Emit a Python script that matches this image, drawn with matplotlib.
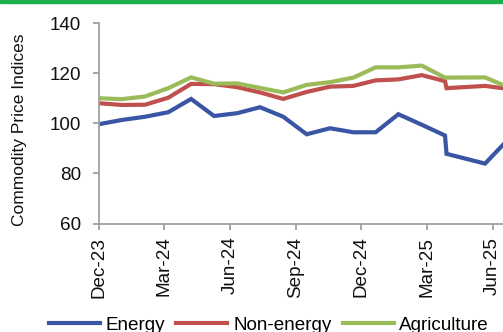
import matplotlib
matplotlib.use("Agg")
import matplotlib.pyplot as plt
from matplotlib.patches import Rectangle

plt.rcParams['font.family'] = ['Liberation Sans', 'DejaVu Sans']

# month positions of the observations (0 = Dec-23)
t = [0, 1.05, 2.12, 3.18, 4.22, 5.27, 6.32, 7.37, 8.43, 9.50,
     10.57, 11.63, 12.65, 13.69, 14.76, 15.82, 15.89, 17.65, 18.70]

energy = [99.6, 101.3, 102.6, 104.4, 109.7, 102.9, 104.0, 106.4, 102.6, 95.6,
          98.0, 96.4, 96.4, 103.6, 99.4, 95.1, 87.8, 83.9, 93.5]
non_energy = [108.0, 107.3, 107.4, 110.2, 115.7, 115.6, 114.4, 112.3, 109.7, 112.5,
              114.6, 114.9, 117.1, 117.5, 119.2, 116.8, 114.0, 114.9, 113.7]
agriculture = [110.0, 109.6, 110.7, 114.0, 118.3, 115.8, 115.9, 114.1, 112.3, 115.3,
               116.4, 118.2, 122.3, 122.3, 123.0, 118.2, 118.2, 118.3, 114.4]

tick_pos = [0, 3, 6, 9, 12, 15, 18]
tick_labels = ['Dec-23', 'Mar-24', 'Jun-24', 'Sep-24', 'Dec-24', 'Mar-25', 'Jun-25']

W, H = 503, 332
fig = plt.figure(figsize=(W / 100, H / 100), dpi=100)

# axes runs past the right edge of the figure
left, bottom = 98.7 / W, (H - 223.5) / H
height = 200.5 / H
xmax = 19.5
width = xmax * 21.89 / W
ax = fig.add_axes([left, bottom, width, height])

ax.plot(t, energy, color='#3a55a4', lw=3, label='Energy', solid_joinstyle='miter')
ax.plot(t, non_energy, color='#c0504d', lw=3, label='Non-energy', solid_joinstyle='miter')
ax.plot(t, agriculture, color='#9bbb59', lw=3, label='Agriculture', solid_joinstyle='miter')

ax.set_xlim(0, xmax)
ax.set_ylim(60, 140)
ax.set_yticks([60, 80, 100, 120, 140])
ax.set_xticks(tick_pos)
ax.set_xticklabels(tick_labels, rotation=90)

for s in ['top', 'right']:
    ax.spines[s].set_visible(False)
for s in ['left', 'bottom']:
    ax.spines[s].set_color('#a0a0a0')
    ax.spines[s].set_linewidth(1.3)

ax.tick_params(axis='y', direction='out', length=4.5, width=1.3, color='#a0a0a0',
               labelsize=13.6, pad=8, labelcolor='#111111')
ax.tick_params(axis='x', direction='out', length=4.5, width=1.3, color='#a0a0a0',
               labelsize=13.6, pad=5, labelcolor='#111111')

ax.set_ylabel('Commodity Price Indices', fontsize=12.5, color='#111111')
ax.yaxis.set_label_coords((27.5 - 98.7) / (width * W), 0.469)

fig.legend(loc='center', bbox_to_anchor=(269 / W, 1 - 325 / H), ncol=3,
           frameon=False, fontsize=13.6, handlelength=2.7, handletextpad=0.3,
           columnspacing=0.6, borderpad=0, borderaxespad=0)

# green rule along the top
fig.patches.append(Rectangle((0, 1 - 3 / H), 1, 3 / H, transform=fig.transFigure,
                             color='#20b04b', zorder=5))

fig.savefig('out.png', dpi=100)
